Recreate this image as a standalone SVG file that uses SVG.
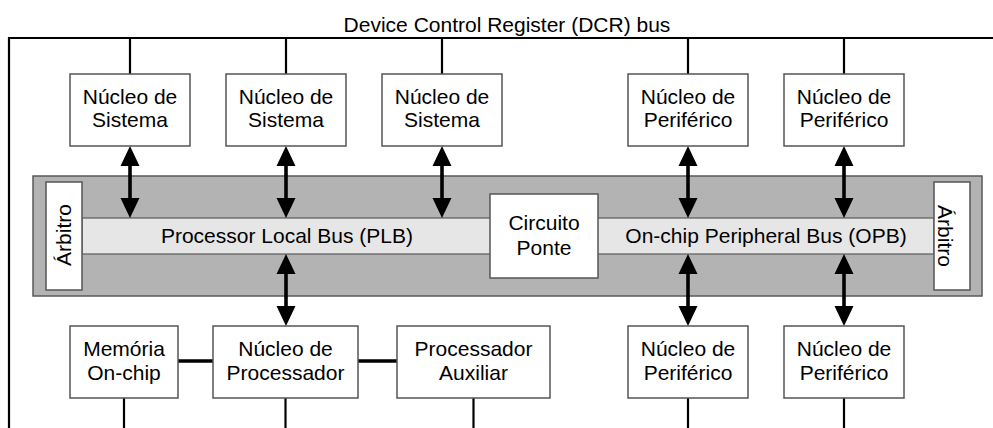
<svg xmlns="http://www.w3.org/2000/svg" width="993" height="428" viewBox="0 0 993 428">
<style>
text{font-family:"Liberation Sans",Arial,sans-serif;font-size:21px;fill:#000;text-anchor:middle}
.box{fill:#fff;stroke:#555;stroke-width:1.5}
.dcr{stroke:#000;stroke-width:2.2;fill:none}
.arr{stroke:#000;stroke-width:3.6;fill:none;marker-start:url(#ah);marker-end:url(#ah)}
.link{stroke:#000;stroke-width:3.6;fill:none}
</style>
<defs>
<marker id="ah" markerUnits="userSpaceOnUse" markerWidth="20" markerHeight="20" refX="10" refY="10" orient="auto-start-reverse" viewBox="0 0 20 20">
<path d="M0,0.5 L20,10 L0,19.5 z" fill="#000"/>
</marker>
</defs>
<rect width="993" height="428" fill="#fff"/>
<text x="507" y="32">Device Control Register (DCR) bus</text>

<g id="soc">
<rect x="33" y="176" width="949" height="120" fill="#b3b3b3" stroke="#5a5a5a" stroke-width="1.5"/>
<rect x="82" y="218" width="852" height="36" fill="#e6e6e6" stroke="#5a5a5a" stroke-width="1.2"/>
</g>
<g id="plb"><text x="287" y="243">Processor Local Bus (PLB)</text></g>
<g id="opb"><text x="766" y="243">On-chip Peripheral Bus (OPB)</text></g>
<g id="arbitro-plb">
<rect class="box" x="46" y="182" width="36" height="108"/>
<text transform="translate(71,235) rotate(-90)">Árbitro</text>
</g>
<g id="arbitro-opb">
<rect class="box" x="934" y="182" width="36" height="108"/>
<text transform="translate(938,236) rotate(90)">Árbitro</text>
</g>
<g id="ponte">
<rect class="box" x="490" y="194" width="108" height="84"/>
<text x="544" y="230">Circuito</text>
<text x="544" y="255">Ponte</text>
</g>

<g id="connectors">
<path class="dcr" d="M9,428 V38 H993"/>
<path class="dcr" d="M130,38 V74 M286,38 V74 M442,38 V74 M688,38 V74 M844,38 V74"/>
<path class="dcr" d="M124,398 V428 M285.5,398 V428 M473.5,398 V428 M688,398 V428 M844,398 V428"/>
<path class="arr" d="M130,156 V208"/>
<path class="arr" d="M286,156 V208"/>
<path class="arr" d="M442,156 V208"/>
<path class="arr" d="M688,156 V208"/>
<path class="arr" d="M844,156 V208"/>
<path class="arr" d="M286,264 V316"/>
<path class="arr" d="M688,264 V316"/>
<path class="arr" d="M844,264 V316"/>
<path class="link" d="M178,361 H213 M358,361 H397"/>
</g>

<g id="sistema1"><rect class="box" x="70" y="74" width="120" height="72"/><text x="130" y="104">Núcleo de</text><text x="130" y="127">Sistema</text></g>
<g id="sistema2"><rect class="box" x="226" y="74" width="120" height="72"/><text x="286" y="104">Núcleo de</text><text x="286" y="127">Sistema</text></g>
<g id="sistema3"><rect class="box" x="382" y="74" width="120" height="72"/><text x="442" y="104">Núcleo de</text><text x="442" y="127">Sistema</text></g>
<g id="periferico1"><rect class="box" x="628" y="74" width="120" height="72"/><text x="688" y="104">Núcleo de</text><text x="688" y="127">Periférico</text></g>
<g id="periferico2"><rect class="box" x="784" y="74" width="120" height="72"/><text x="844" y="104">Núcleo de</text><text x="844" y="127">Periférico</text></g>

<g id="memoria"><rect class="box" x="70" y="326" width="108" height="72"/><text x="124" y="356">Memória</text><text x="124" y="380">On-chip</text></g>
<g id="processador"><rect class="box" x="213" y="326" width="145" height="72"/><text x="285.5" y="356">Núcleo de</text><text x="285.5" y="380">Processador</text></g>
<g id="auxiliar"><rect class="box" x="397" y="326" width="153" height="72"/><text x="473.5" y="356">Processador</text><text x="473.5" y="380">Auxiliar</text></g>
<g id="periferico3"><rect class="box" x="628" y="326" width="120" height="72"/><text x="688" y="356">Núcleo de</text><text x="688" y="380">Periférico</text></g>
<g id="periferico4"><rect class="box" x="784" y="326" width="120" height="72"/><text x="844" y="356">Núcleo de</text><text x="844" y="380">Periférico</text></g>
</svg>
